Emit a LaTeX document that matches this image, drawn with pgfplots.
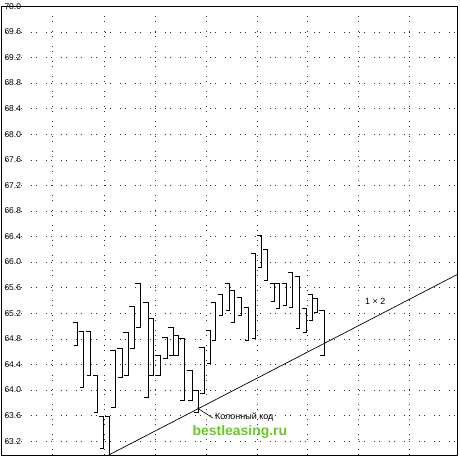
\documentclass[border=0pt]{standalone}
\usepackage{pgfplots}
\pgfplotsset{compat=1.18}
\usepackage{fontspec}
\setmainfont{Liberation Sans}
\begin{document}
\begin{tikzpicture}
\begin{axis}[
  scale only axis, width=459pt, height=451pt,
  xmin=0, xmax=459, ymin=62.98, ymax=70.0,
  axis line style={line width=0.9pt},
  xtick={52,104,155,206,257,308,359,410}, xticklabels={},
  ytick={63.2,63.6,64.0,64.4,64.8,65.2,65.6,66.0,66.4,66.8,67.2,67.6,68.0,68.4,68.8,69.2,69.6,70.0},
  /pgf/number format/assume math mode=true,
  yticklabel style={anchor=west, font=\fontsize{8.5}{9}\selectfont,
    /pgf/number format/fixed, /pgf/number format/fixed zerofill,
    /pgf/number format/precision=1},
  major tick length=0pt,
  grid=major,
  major grid style={black!80, line width=0.5pt, dash pattern=on 1pt off 4pt on 1pt off 9pt},
  unbounded coords=jump,
]
% bars: left tick at high, vertical high-low, left tick at low
\addplot[black, line width=1pt] coordinates {
(72,65.05)(77,65.05)(77,64.69)(73,64.69)(77,nan)
(78,64.91)(83,64.91)(83,64.04)(79,64.04)(83,nan)
(85,64.91)(90,64.91)(90,64.23)(86,64.23)(90,nan)
(92,64.23)(97,64.23)(97,63.64)(93,63.64)(97,nan)
(98,63.59)(103,63.59)(103,63.09)(99,63.09)(103,nan)
(104,63.59)(109,63.59)(109,62.98)(105,62.98)(109,nan)
(110,64.62)(115,64.62)(115,63.73)(111,63.73)(115,nan)
(117,64.65)(122,64.65)(122,64.20)(118,64.20)(122,nan)
(123,64.90)(128,64.90)(128,64.23)(124,64.23)(128,nan)
(129,65.30)(134,65.30)(134,64.65)(130,64.65)(134,nan)
(135,65.66)(140,65.66)(140,64.97)(136,64.97)(140,nan)
(143,65.36)(148,65.36)(148,63.88)(144,63.88)(148,nan)
(148,65.11)(153,65.11)(153,64.23)(149,64.23)(153,nan)
(155,64.54)(160,64.54)(160,64.23)(156,64.23)(160,nan)
(162,64.82)(167,64.82)(167,64.49)(163,64.49)(167,nan)
(168,64.97)(173,64.97)(173,64.54)(169,64.54)(173,nan)
(173,64.85)(178,64.85)(178,64.54)(174,64.54)(178,nan)
(179,64.80)(184,64.80)(184,63.84)(180,63.84)(184,nan)
(187,64.30)(192,64.30)(192,63.84)(188,63.84)(192,nan)
(193,63.99)(198,63.99)(198,63.64)(194,63.64)(198,nan)
(199,64.66)(204,64.66)(204,63.95)(200,63.95)(204,nan)
(206,64.93)(211,64.93)(211,64.41)(207,64.41)(211,nan)
(211,65.36)(216,65.36)(216,64.77)(212,64.77)(216,nan)
(218,65.50)(223,65.50)(223,65.16)(219,65.16)(223,nan)
(225,65.66)(230,65.66)(230,65.24)(226,65.24)(230,nan)
(230,65.55)(235,65.55)(235,65.05)(231,65.05)(235,nan)
(237,65.44)(242,65.44)(242,65.16)(238,65.16)(242,nan)
(244,65.29)(249,65.29)(249,64.77)(245,64.77)(249,nan)
(251,66.14)(256,66.14)(256,64.80)(252,64.80)(256,nan)
(257,66.41)(262,66.41)(262,65.91)(258,65.91)(262,nan)
(263,66.20)(268,66.20)(268,65.71)(264,65.71)(268,nan)
(270,65.67)(275,65.67)(275,65.39)(271,65.39)(275,nan)
(275,65.67)(280,65.67)(280,65.27)(276,65.27)(280,nan)
(282,65.67)(287,65.67)(287,65.32)(283,65.32)(287,nan)
(288,65.83)(293,65.83)(293,65.29)(289,65.29)(293,nan)
(295,65.78)(300,65.78)(300,64.96)(296,64.96)(300,nan)
(302,65.27)(307,65.27)(307,64.90)(303,64.90)(307,nan)
(308,65.50)(313,65.50)(313,65.08)(309,65.08)(313,nan)
(313,65.43)(318,65.43)(318,65.21)(314,65.21)(318,nan)
(320,65.24)(325,65.24)(325,64.54)(321,64.54)
};
% Gann 1x2 line from the low
\addplot[black, line width=0.7pt] coordinates {(108,62.98) (459,65.81)};
\draw[black, line width=0.6pt] (axis cs:197,63.72) -- (axis cs:213,63.56);
\node[anchor=center, font=\fontsize{9}{10}\selectfont] at (axis cs:376,65.39) {1 × 2};
\node[anchor=west, font=\fontsize{9}{10}\selectfont, inner sep=1pt] at (axis cs:214,63.57) {Колонный код};
\node[anchor=center, font=\fontsize{14}{15}\bfseries\selectfont, text={rgb,255:red,102;green,204;blue,34}] at (axis cs:240,63.34) {bestleasing.ru};
\end{axis}
\path (current axis.south west) -- ++(-1pt,-2pt);
\path (current axis.north east) -- ++(2pt,4pt);
\end{tikzpicture}
\end{document}
